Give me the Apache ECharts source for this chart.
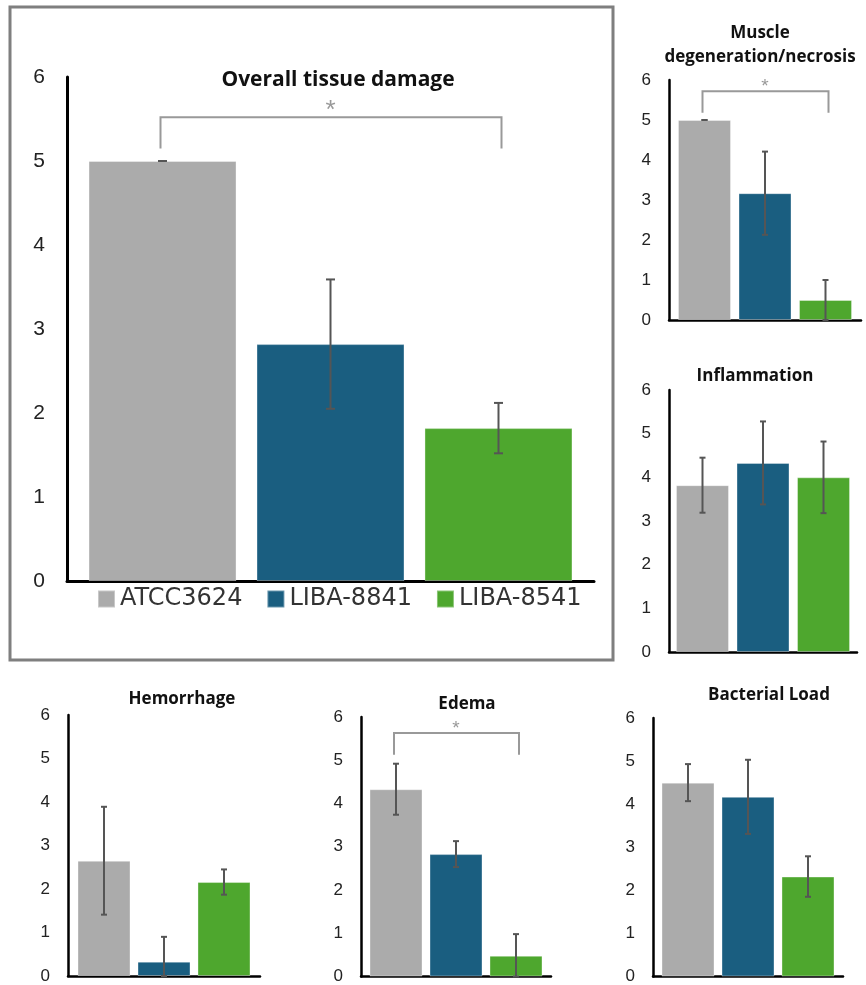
<!DOCTYPE html>
<html><head><meta charset="utf-8">
<script src="https://cdn.jsdelivr.net/npm/echarts@6/dist/echarts.min.js"></script>
<style>html,body{margin:0;padding:0;background:#fff}#c{width:866px;height:985px}</style>
</head><body><div id="c"></div>
<script>
// ---------- data ----------
const groups = ['ATCC3624', 'LIBA-8841', 'LIBA-8541'];
const yTicks = [0, 1, 2, 3, 4, 5, 6];
const overallMeans = [5.0, 2.82, 1.82];
const overallErr   = [0.0, 0.77, 0.30];
const muscleMeans  = [5.0, 3.17, 0.50];
const muscleErr    = [0.0, 1.04, 0.50];
const inflamMeans  = [3.82, 4.33, 4.00];
const inflamErr    = [0.63, 0.95, 0.82];
const hemMeans     = [2.65, 0.33, 2.16];
const hemErr       = [1.24, 0.57, 0.29];
const edemaMeans   = [4.33, 2.83, 0.48];
const edemaErr     = [0.59, 0.30, 0.50];
const bactMeans    = [4.50, 4.17, 2.32];
const bactErr      = [0.43, 0.86, 0.47];
// significance brackets: [top level, leg end level]
const overallBracket = [5.52, 5.15];
const muscleBracket  = [5.72, 5.18];
const edemaBracket   = [5.63, 5.13];
const starLabel = '*';

// ---------- styles ----------
const colors = ['#ABABAB', '#1A5E80', '#4EA72E'];
const numFont = 'Liberation Sans';
const titleFont = 'Open Sans';

const panels = [
  {title: 'Overall tissue damage', means: overallMeans, err: overallErr, bracket: overallBracket,
   grid: {left: 67, top: 77, width: 527, height: 504}, barW: 148, gap: 20, cap: 9, axisW: 3, fs: 21, lblMargin: 22,
   tx: 338, ty: 80, tfs: 21, starFs: 26, starD: 6},
  {title: 'Muscle\ndegeneration/necrosis', means: muscleMeans, err: muscleErr, bracket: muscleBracket,
   grid: {left: 669, top: 80, width: 192, height: 240}, barW: 53, gap: 7.5, cap: 6, axisW: 2.5, fs: 17, lblMargin: 18,
   tx: 760, ty: 33, tfs: 17, starFs: 19, starD: 4},
  {title: 'Inflammation', means: inflamMeans, err: inflamErr, bracket: null,
   grid: {left: 669, top: 390, width: 188, height: 262}, barW: 53, gap: 7.5, cap: 6, axisW: 2.5, fs: 17, lblMargin: 18,
   tx: 755, ty: 376, tfs: 17},
  {title: 'Hemorrhage', means: hemMeans, err: hemErr, bracket: null,
   grid: {left: 68, top: 715, width: 192, height: 261}, barW: 53, gap: 7, cap: 6, axisW: 2.5, fs: 17, lblMargin: 18,
   tx: 182, ty: 699, tfs: 17},
  {title: 'Edema', means: edemaMeans, err: edemaErr, bracket: edemaBracket,
   grid: {left: 361, top: 717, width: 190, height: 261}, barW: 53, gap: 7, cap: 6, axisW: 2.5, fs: 17, lblMargin: 18,
   tx: 467, ty: 704, tfs: 17, starFs: 19, starD: 4},
  {title: 'Bacterial Load', means: bactMeans, err: bactErr, bracket: null,
   grid: {left: 653, top: 718, width: 190, height: 260}, barW: 53, gap: 7, cap: 6, axisW: 2.5, fs: 17, lblMargin: 18,
   tx: 769, ty: 695, tfs: 17}
];

const option = {
  animation: false,
  backgroundColor: '#fff',
  title: [], grid: [], xAxis: [], yAxis: [], series: [],
  legend: {
    data: groups, left: 97, top: 587, padding: 0, icon: 'rect', itemWidth: 17, itemHeight: 17, itemGap: 24,
    textStyle: {fontFamily: 'DejaVu Sans', fontSize: 24, color: '#333', padding: [0, 0, 0, 0]}
  },
  graphic: [{
    type: 'rect', shape: {x: 10, y: 7, width: 603, height: 653},
    style: {fill: 'none', stroke: '#7f7f7f', lineWidth: 3}, z: 0
  }]
};

panels.forEach((p, gi) => {
  const lh = Math.round(p.tfs * 1.4);
  option.title.push({
    text: p.title, left: p.tx, top: p.ty - lh / 2, textAlign: 'center', padding: 0,
    textStyle: {fontFamily: titleFont, fontWeight: 'bold', fontSize: p.tfs, color: '#111', lineHeight: lh}
  });
  option.grid.push(Object.assign({containLabel: false}, p.grid));
  option.xAxis.push({
    type: 'category', data: ['x'], gridIndex: gi,
    axisLine: {lineStyle: {color: '#000', width: p.axisW}}, axisTick: {show: false}, axisLabel: {show: false}
  });
  option.yAxis.push({
    type: 'value', gridIndex: gi, min: yTicks[0], max: yTicks[yTicks.length - 1], interval: 1,
    axisLine: {show: true, lineStyle: {color: '#000', width: p.axisW}}, axisTick: {show: false}, splitLine: {show: false},
    axisLabel: {fontFamily: numFont, fontSize: p.fs, color: '#222', margin: p.lblMargin}
  });
  groups.forEach((g, si) => {
    option.series.push({
      type: 'bar', name: g, xAxisIndex: gi, yAxisIndex: gi,
      data: [p.means[si]], barWidth: p.barW, barGap: (p.gap / p.barW * 100).toFixed(1) + '%',
      itemStyle: {color: colors[si], borderColor: 'rgba(255,255,255,0.35)', borderWidth: 1},
      emphasis: {disabled: true}
    });
  });
  const step = p.barW + p.gap;
  // error bars
  option.series.push({
    type: 'custom', xAxisIndex: gi, yAxisIndex: gi, z: 10, silent: true,
    encode: {x: 0, y: [1, 2]},
    data: p.means.map((m, si) => [0, Math.max(0, m - p.err[si]), m + p.err[si], si]),
    renderItem: function (params, api) {
      const lo = api.coord([0, api.value(1)]);
      const hi = api.coord([0, api.value(2)]);
      const x = hi[0] + (api.value(3) - 1) * step;
      const st = {stroke: '#555', lineWidth: 2};
      const c = p.cap / 2;
      return {type: 'group', children: [
        {type: 'line', shape: {x1: x, y1: hi[1], x2: x, y2: lo[1]}, style: st},
        {type: 'line', shape: {x1: x - c, y1: hi[1], x2: x + c, y2: hi[1]}, style: st},
        {type: 'line', shape: {x1: x - c, y1: lo[1], x2: x + c, y2: lo[1]}, style: st}
      ]};
    }
  });
  if (p.bracket) {
    option.series.push({
      type: 'custom', xAxisIndex: gi, yAxisIndex: gi, z: 10, silent: true,
      encode: {x: 0, y: [1, 2]},
      data: [[0, p.bracket[0], p.bracket[1]]],
      renderItem: function (params, api) {
        const top = api.coord([0, api.value(1)]);
        const bot = api.coord([0, api.value(2)]);
        const x1 = top[0] - step - 2, x2 = top[0] + step + 3;
        const st = {stroke: '#999', lineWidth: 2, fill: 'none'};
        return {type: 'group', children: [
          {type: 'polyline', shape: {points: [[x1, bot[1]], [x1, top[1]], [x2, top[1]], [x2, bot[1]]]}, style: st},
          {type: 'text', style: {text: starLabel, x: top[0], y: top[1] - p.starD, textAlign: 'center', textVerticalAlign: 'middle',
            fill: '#999', font: p.starFs + 'px ' + numFont}}
        ]};
      }
    });
  }
});

const chart = echarts.init(document.getElementById('c'), null, {renderer: 'canvas'});
chart.setOption(option);
</script>
</body></html>
